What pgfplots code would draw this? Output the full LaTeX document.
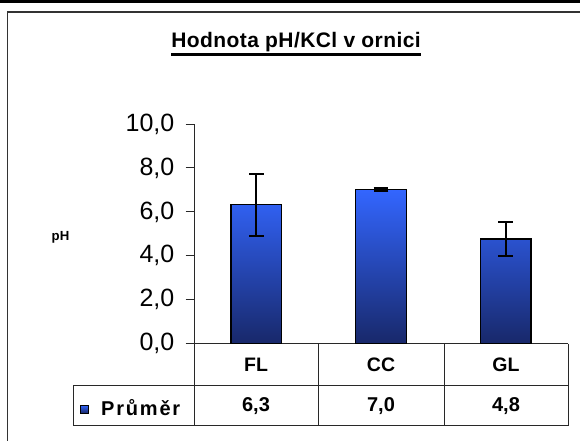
\documentclass[border=0pt]{standalone}
\usepackage{fontspec}
\setmainfont{Liberation Sans}
\usepackage{pgfplots}
\pgfplotsset{compat=1.18}
\definecolor{bartop}{RGB}{51,102,255}
\definecolor{barbot}{RGB}{24,40,106}
\definecolor{lin}{RGB}{40,40,40}
\begin{document}
\begin{tikzpicture}
\useasboundingbox (0,0) rectangle (580pt,-441pt);
\begin{scope}[x=1pt,y=-1pt]
\fill[black] (0,0.5) rectangle (580,3.5);
\draw[black!80, line width=1.6pt] (7.5,441) -- (7.5,12) -- (580,12);
\node[inner sep=0pt, anchor=base, font=\bfseries\fontsize{21}{21}\selectfont\addfontfeature{LetterSpace=2}] (title) at (296,47.7) {Hodnota pH/KCl v ornici};
\draw[line width=2.2pt] ([yshift=-6.8pt]title.base west) -- ([yshift=-6.8pt]title.base east);
\node[font=\bfseries\fontsize{13.2}{13.2}\selectfont] at (60.5,237) {pH};
% data table
\draw[lin, line width=1pt] (73.3,385.7) -- (568,385.7);
\draw[lin, line width=1pt] (73.3,425.5) -- (568,425.5);
\draw[lin, line width=1pt] (73.3,385.7) -- (73.3,425.5);
\draw[lin, line width=1pt] (194,343.7) -- (194,425.5);
\draw[lin, line width=1pt] (318,343.7) -- (318,425.5);
\draw[lin, line width=1pt] (444,343.7) -- (444,425.5);
\draw[lin, line width=1pt] (568,343.7) -- (568,425.5);
\node[font=\bfseries\fontsize{19.5}{19.5}\selectfont] at (256,364.7) {FL};
\node[font=\bfseries\fontsize{19.5}{19.5}\selectfont] at (381,364.7) {CC};
\node[font=\bfseries\fontsize{19.5}{19.5}\selectfont] at (506,364.7) {GL};
\node[font=\bfseries\fontsize{20}{20}\selectfont] at (256,405.6) {6,3};
\node[font=\bfseries\fontsize{20}{20}\selectfont] at (381,405.6) {7,0};
\node[font=\bfseries\fontsize{20}{20}\selectfont] at (506,405.6) {4,8};
\draw[black, line width=0.8pt, top color=bartop, bottom color=barbot] (80,405) rectangle (88,413);
\node[inner sep=0pt, anchor=base west, font=\bfseries\fontsize{20}{20}\selectfont\addfontfeature{LetterSpace=9}] at (101,415) {Průměr};
\end{scope}
\begin{axis}[
  at={(194pt,-343.7pt)}, anchor=south west, scale only axis,
  width=374pt, height=219.7pt,
  xmin=-0.5, xmax=2.5, ymin=0, ymax=10,
  axis x line*=bottom, axis y line*=left,
  axis line style={-, lin, line width=1pt},
  xtick=\empty, ytick={0,2,...,10},
  tick align=outside, major tick length=8.5pt,
  tick style={lin, line width=1pt},
  /pgf/number format/.cd, fixed, fixed zerofill, precision=1, use comma, assume math mode=true,
  /pgfplots/.cd,
  yticklabel style={font=\fontsize{25}{25}\selectfont, inner sep=0pt, xshift=-11pt},
  ybar, bar width=50.7pt,
  clip=false,
]
\addplot[draw=black, line width=1.4pt, top color=bartop, bottom color=barbot,
  error bars/.cd, y dir=both, y explicit,
  error bar style={line width=2pt, black},
  error mark options={rotate=90, mark size=7.3pt, line width=2pt, black}]
  coordinates {(0,6.33) +- (0,1.41) (1,7.03) +- (0,0.07) (2,4.76) +- (0,0.78)};
\end{axis}
\end{tikzpicture}
\end{document}
